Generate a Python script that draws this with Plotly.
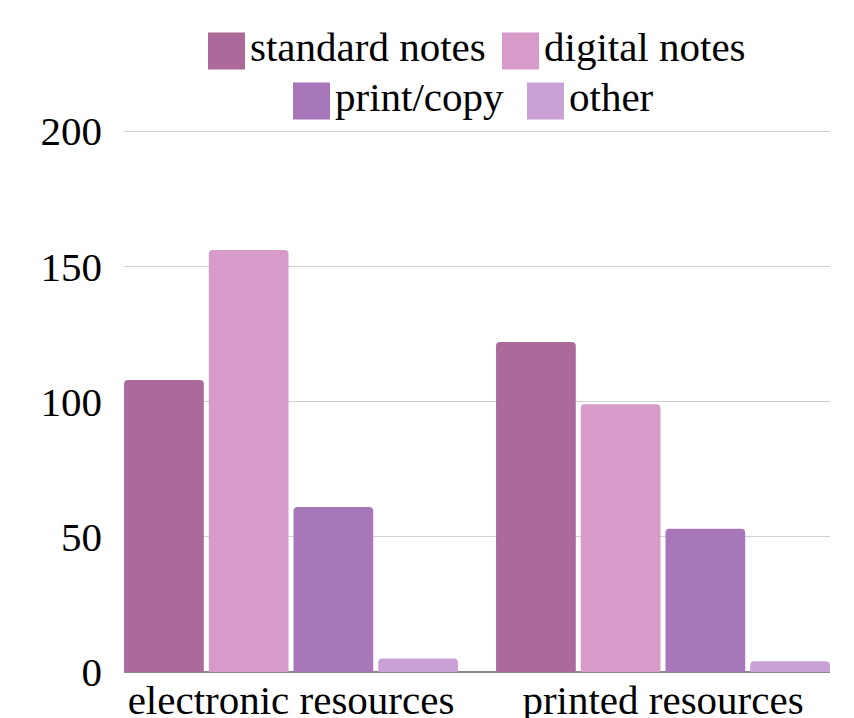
import plotly.graph_objects as go

categories = ["electronic resources", "printed resources"]
series_names = ["standard notes", "digital notes", "print/copy", "other"]
standard_notes = [108, 122]
digital_notes = [156, 99]
print_copy = [61, 53]
other = [5, 4]
colors = ["#AB6A9A", "#D69BC9", "#A877BA", "#C9A1D6"]
y_ticks = [0, 50, 100, 150, 200]

FONT = "Liberation Serif"
FS = 41
OFF = 8  # browser body margin
W, H = 846, 710
ML, MT, PW, PH = 116, 122, 706, 542
MR, MB = W - ML - PW, H - MT - PH

fig = go.Figure()
for name, vals, c in zip(series_names, [standard_notes, digital_notes, print_copy, other], colors):
    fig.add_trace(go.Bar(x=categories, y=vals, name=name, marker_color=c,
                         marker_line_width=0, showlegend=False))

def px(x):
    return (x - OFF - ML) / PW

def py(y):
    return (MT + PH - (y - OFF)) / PH

# manual legend (large swatches), page coordinates
legend_items = [
    (series_names[0], colors[0], 208, 51),
    (series_names[1], colors[1], 502, 51),
    (series_names[2], colors[2], 293, 101),
    (series_names[3], colors[3], 527, 101),
]
shapes = []
annotations = []
for name, c, x0, yc in legend_items:
    shapes.append(dict(type="rect", xref="paper", yref="paper",
                       x0=px(x0), x1=px(x0 + 37), y0=py(yc + 18.5), y1=py(yc - 18.5),
                       fillcolor=c, line=dict(width=0)))
    annotations.append(dict(text=name, xref="paper", yref="paper",
                            x=px(x0 + 40), y=py(yc - 4), xanchor="left", yanchor="middle",
                            showarrow=False, font=dict(family=FONT, size=FS, color="#000")))

fig.update_layout(
    width=W, height=H,
    margin=dict(l=ML, r=MR, t=MT, b=MB, autoexpand=False),
    paper_bgcolor="white", plot_bgcolor="white",
    barmode="group", bargap=0.089, bargroupgap=0.059,
    barcornerradius=4,
    font=dict(family=FONT, size=FS, color="#000"),
    shapes=shapes, annotations=annotations,
    xaxis=dict(showgrid=False, ticks="", tickfont=dict(size=FS), showline=False,
               range=[-0.449, 1.449], automargin=False),
    yaxis=dict(range=[0, 200.4], tickvals=y_ticks, showgrid=True, gridcolor="#D0D0D0",
               gridwidth=1, zeroline=True, zerolinecolor="#888888", zerolinewidth=1.5,
               ticks="", tickfont=dict(size=FS), ticklabelstandoff=21, automargin=False),
)

fig.write_html("out.html")
